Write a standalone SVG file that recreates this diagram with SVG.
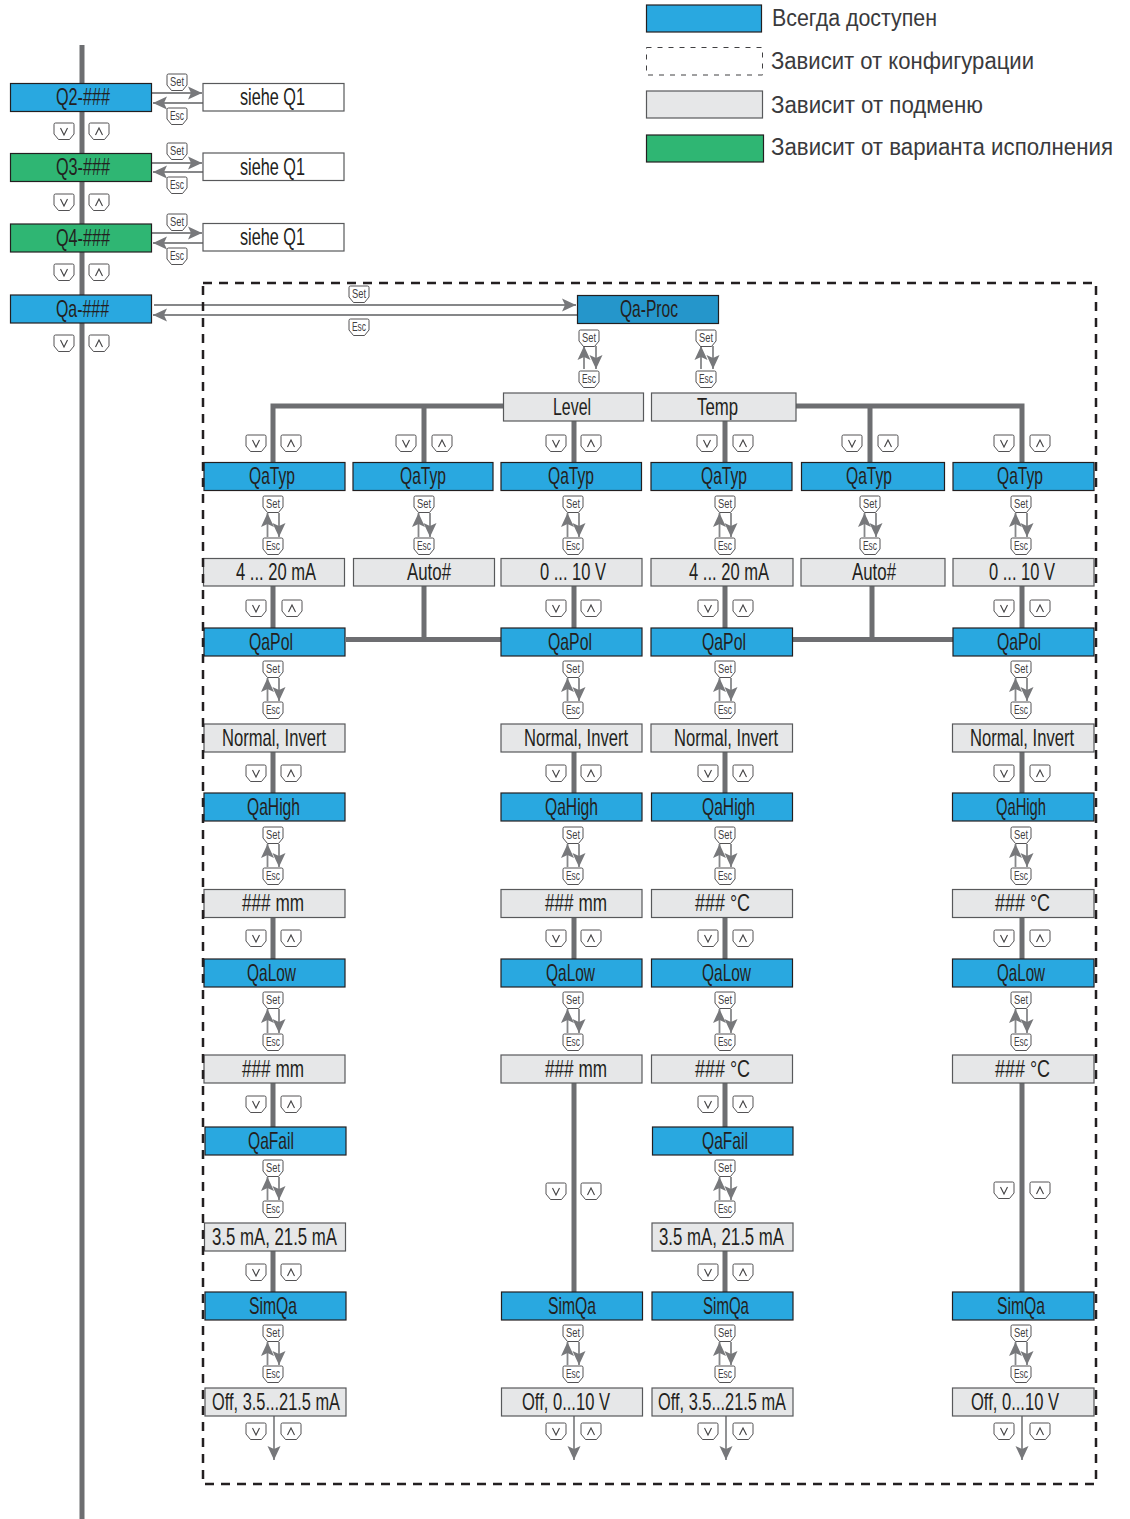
<svg xmlns="http://www.w3.org/2000/svg" width="1130" height="1519" viewBox="0 0 1130 1519">
<style>
.n{stroke-width:1.2}
.b{fill:#29a8e0;stroke:#231f20}
.p{fill:#2596cb;stroke:#231f20}
.gn{fill:#2fb673;stroke:#231f20}
.g{fill:#e6e7e8;stroke:#58595b}
.w{fill:#fff;stroke:#58595b}
.t{font-family:"Liberation Sans Narrow","Liberation Sans",sans-serif;font-size:24px;fill:#231f20}
.l{font-family:"Liberation Sans",sans-serif;font-size:23px;fill:#3a3a3c}
.kt{font-family:"Liberation Sans Narrow","Liberation Sans",sans-serif;font-size:12px;fill:#414042;text-anchor:middle}
.s{stroke:#6d6e71;stroke-width:5;fill:none}
.a{stroke:#868789;stroke-width:1.8;fill:none;marker-end:url(#h)}
.kf{fill:#fff;stroke:#414042;stroke-width:.9}
.ch{fill:none;stroke:#414042;stroke-width:1.1}
</style>
<defs>
<marker id="h" markerUnits="userSpaceOnUse" viewBox="-15 -8 16 16" refX="0" refY="0" markerWidth="16" markerHeight="16" orient="auto"><path d="M0 0L-14 -6.500L-11 0L-14 6.500Z" fill="#77787b"/></marker>
<path id="k" class="kf" d="M1.500 1H18.500Q20 1 20 2.500V12L15.500 17.500H4.500L0 12V2.500Q0 1 1.500 1Z"/>
<g id="kd"><use href="#k"/><path class="ch" d="M6.500 6L10 13L13.500 6"/></g>
<g id="ku"><use href="#k"/><path class="ch" d="M6.500 13L10 6L13.500 13"/></g>
</defs>

<g id="connectors">
<line class="s" x1="82" y1="45" x2="82" y2="1519"/>
<line class="a" x1="152" y1="93" x2="202" y2="93"/><line class="a" x1="203" y1="103" x2="153" y2="103"/>
<line class="a" x1="152" y1="163" x2="202" y2="163"/><line class="a" x1="203" y1="172" x2="153" y2="172"/>
<line class="a" x1="152" y1="233" x2="202" y2="233"/><line class="a" x1="203" y1="243" x2="153" y2="243"/>
<line class="a" x1="154" y1="305" x2="576" y2="305"/><line class="a" x1="577" y1="315" x2="153" y2="315"/>
<line class="a" x1="584" y1="369" x2="584" y2="346"/><line class="a" x1="596" y1="346" x2="596" y2="369"/>
<line class="a" x1="701" y1="369" x2="701" y2="346"/><line class="a" x1="713" y1="346" x2="713" y2="369"/>
<path class="s" d="M503 406H273V462M424 406V462M574 421V462M725 421V462M796 406H1022V462M870 406V462"/>
<path class="s" d="M273 586V628M346 639.500H501M424 586V639.500M574 586V628M725 586V628M793 639.500H953M872 586V639.500M1022 586V628"/>
<path class="s" d="M273 752V793M574 752V793M725 752V793M1022 752V793M273 917V959M574 917V959M725 917V959M1022 917V959"/>
<path class="s" d="M273 1083V1127M574 1083V1292M725 1083V1127M1022 1083V1292M273 1251V1292M725 1251V1292"/>
<line class="a" x1="274" y1="1416" x2="274" y2="1460"/><line class="a" x1="574" y1="1416" x2="574" y2="1460"/><line class="a" x1="726" y1="1416" x2="726" y2="1460"/><line class="a" x1="1022" y1="1416" x2="1022" y2="1460"/>
<line class="a" x1="267.500" y1="537" x2="267.500" y2="513"/><line class="a" x1="279" y1="513" x2="279" y2="537"/>
<line class="a" x1="418.500" y1="537" x2="418.500" y2="513"/><line class="a" x1="430" y1="513" x2="430" y2="537"/>
<line class="a" x1="567.500" y1="537" x2="567.500" y2="513"/><line class="a" x1="579" y1="513" x2="579" y2="537"/>
<line class="a" x1="719.500" y1="537" x2="719.500" y2="513"/><line class="a" x1="731" y1="513" x2="731" y2="537"/>
<line class="a" x1="864.500" y1="537" x2="864.500" y2="513"/><line class="a" x1="876" y1="513" x2="876" y2="537"/>
<line class="a" x1="1015.500" y1="537" x2="1015.500" y2="513"/><line class="a" x1="1027" y1="513" x2="1027" y2="537"/>
<line class="a" x1="267.500" y1="701" x2="267.500" y2="678"/><line class="a" x1="279" y1="678" x2="279" y2="701"/>
<line class="a" x1="567.500" y1="701" x2="567.500" y2="678"/><line class="a" x1="579" y1="678" x2="579" y2="701"/>
<line class="a" x1="719.500" y1="701" x2="719.500" y2="678"/><line class="a" x1="731" y1="678" x2="731" y2="701"/>
<line class="a" x1="1015.500" y1="701" x2="1015.500" y2="678"/><line class="a" x1="1027" y1="678" x2="1027" y2="701"/>
<line class="a" x1="267.500" y1="867" x2="267.500" y2="844"/><line class="a" x1="279" y1="844" x2="279" y2="867"/>
<line class="a" x1="567.500" y1="867" x2="567.500" y2="844"/><line class="a" x1="579" y1="844" x2="579" y2="867"/>
<line class="a" x1="719.500" y1="867" x2="719.500" y2="844"/><line class="a" x1="731" y1="844" x2="731" y2="867"/>
<line class="a" x1="1015.500" y1="867" x2="1015.500" y2="844"/><line class="a" x1="1027" y1="844" x2="1027" y2="867"/>
<line class="a" x1="267.500" y1="1033" x2="267.500" y2="1009"/><line class="a" x1="279" y1="1009" x2="279" y2="1033"/>
<line class="a" x1="567.500" y1="1033" x2="567.500" y2="1009"/><line class="a" x1="579" y1="1009" x2="579" y2="1033"/>
<line class="a" x1="719.500" y1="1033" x2="719.500" y2="1009"/><line class="a" x1="731" y1="1009" x2="731" y2="1033"/>
<line class="a" x1="1015.500" y1="1033" x2="1015.500" y2="1009"/><line class="a" x1="1027" y1="1009" x2="1027" y2="1033"/>
<line class="a" x1="267.500" y1="1200" x2="267.500" y2="1177"/><line class="a" x1="279" y1="1177" x2="279" y2="1200"/>
<line class="a" x1="719.500" y1="1200" x2="719.500" y2="1177"/><line class="a" x1="731" y1="1177" x2="731" y2="1200"/>
<line class="a" x1="267.500" y1="1365" x2="267.500" y2="1342"/><line class="a" x1="279" y1="1342" x2="279" y2="1365"/>
<line class="a" x1="567.500" y1="1365" x2="567.500" y2="1342"/><line class="a" x1="579" y1="1342" x2="579" y2="1365"/>
<line class="a" x1="719.500" y1="1365" x2="719.500" y2="1342"/><line class="a" x1="731" y1="1342" x2="731" y2="1365"/>
<line class="a" x1="1015.500" y1="1365" x2="1015.500" y2="1342"/><line class="a" x1="1027" y1="1342" x2="1027" y2="1365"/>
</g>

<g id="legend">
<rect class="b n" x="646.500" y="5" width="115" height="27"/>
<rect x="646.500" y="47.500" width="116" height="27.500" fill="none" stroke="#414042" stroke-width="1" stroke-dasharray="5 6"/>
<rect class="g n" x="646.500" y="91" width="116" height="27"/>
<rect class="gn n" x="646.500" y="135" width="117" height="27"/>
<text class="l" x="772" y="26" textLength="165" lengthAdjust="spacingAndGlyphs">Всегда доступен</text>
<text class="l" x="771" y="69" textLength="263" lengthAdjust="spacingAndGlyphs">Зависит от конфигурации</text>
<text class="l" x="771" y="113" textLength="212" lengthAdjust="spacingAndGlyphs">Зависит от подменю</text>
<text class="l" x="771" y="155" textLength="342" lengthAdjust="spacingAndGlyphs">Зависит от варианта исполнения</text>
</g>

<g id="q2"><rect class="b n" x="10.500" y="83.500" width="141" height="28"/><text class="t" x="56" y="105" textLength="54" lengthAdjust="spacingAndGlyphs">Q2-###</text></g>
<g id="q3"><rect class="gn n" x="10.500" y="153.500" width="141" height="28"/><text class="t" x="56" y="175" textLength="54" lengthAdjust="spacingAndGlyphs">Q3-###</text></g>
<g id="q4"><rect class="gn n" x="10.500" y="224" width="141" height="28"/><text class="t" x="56" y="246" textLength="54" lengthAdjust="spacingAndGlyphs">Q4-###</text></g>
<g id="qa"><rect class="b n" x="10.500" y="295" width="141" height="28"/><text class="t" x="56" y="317" textLength="53" lengthAdjust="spacingAndGlyphs">Qa-###</text></g>
<g id="sq2"><rect class="w n" x="203" y="83.500" width="141" height="27.500"/><text class="t" x="240" y="105" textLength="65" lengthAdjust="spacingAndGlyphs">siehe Q1</text></g>
<g id="sq3"><rect class="w n" x="203" y="153" width="141" height="27.500"/><text class="t" x="240" y="175" textLength="65" lengthAdjust="spacingAndGlyphs">siehe Q1</text></g>
<g id="sq4"><rect class="w n" x="203" y="223.500" width="141" height="27.500"/><text class="t" x="240" y="245" textLength="65" lengthAdjust="spacingAndGlyphs">siehe Q1</text></g>
<g id="qaproc"><rect class="p n" x="577.500" y="295.500" width="141" height="28"/><text class="t" x="620" y="317" textLength="58" lengthAdjust="spacingAndGlyphs">Qa-Proc</text></g>
<g id="level"><rect class="g n" x="503.500" y="393" width="140" height="28"/><text class="t" x="553" y="415" textLength="38" lengthAdjust="spacingAndGlyphs">Level</text></g>
<g id="temp"><rect class="g n" x="651.500" y="393" width="144.500" height="28"/><text class="t" x="697" y="415" textLength="41" lengthAdjust="spacingAndGlyphs">Temp</text></g>

<g id="a1"><rect class="b n" x="204" y="462.500" width="141" height="28"/><text class="t" x="249" y="484" textLength="46" lengthAdjust="spacingAndGlyphs">QaTyp</text></g>
<g id="a2"><rect class="g n" x="203.500" y="558.500" width="141" height="27.500"/><text class="t" x="236" y="580" textLength="80" lengthAdjust="spacingAndGlyphs">4 ... 20 mA</text></g>
<g id="a3"><rect class="b n" x="204" y="628" width="141" height="28"/><text class="t" x="249" y="650" textLength="44" lengthAdjust="spacingAndGlyphs">QaPol</text></g>
<g id="a4"><rect class="g n" x="204" y="724" width="141" height="28"/><text class="t" x="222" y="746" textLength="104" lengthAdjust="spacingAndGlyphs">Normal, Invert</text></g>
<g id="a5"><rect class="b n" x="204" y="793" width="141" height="28"/><text class="t" x="247" y="815" textLength="53" lengthAdjust="spacingAndGlyphs">QaHigh</text></g>
<g id="a6"><rect class="g n" x="204" y="889.500" width="141" height="28"/><text class="t" x="242" y="911" textLength="62" lengthAdjust="spacingAndGlyphs">### mm</text></g>
<g id="a7"><rect class="b n" x="204" y="959" width="141" height="28"/><text class="t" x="247" y="981" textLength="49" lengthAdjust="spacingAndGlyphs">QaLow</text></g>
<g id="a8"><rect class="g n" x="204" y="1055" width="141" height="28"/><text class="t" x="242" y="1077" textLength="62" lengthAdjust="spacingAndGlyphs">### mm</text></g>
<g id="a9"><rect class="b n" x="205" y="1127" width="141" height="28"/><text class="t" x="248" y="1149" textLength="46" lengthAdjust="spacingAndGlyphs">QaFail</text></g>
<g id="a10"><rect class="g n" x="204.500" y="1223" width="141" height="28"/><text class="t" x="212" y="1245" textLength="125" lengthAdjust="spacingAndGlyphs">3.5 mA, 21.5 mA</text></g>
<g id="a11"><rect class="b n" x="205" y="1292" width="141" height="28"/><text class="t" x="249" y="1314" textLength="48" lengthAdjust="spacingAndGlyphs">SimQa</text></g>
<g id="a12"><rect class="g n" x="205" y="1388" width="141" height="28"/><text class="t" x="212" y="1410" textLength="128" lengthAdjust="spacingAndGlyphs">Off, 3.5...21.5 mA</text></g>

<g id="b1"><rect class="b n" x="353" y="462.500" width="140" height="28"/><text class="t" x="400" y="484" textLength="46" lengthAdjust="spacingAndGlyphs">QaTyp</text></g>
<g id="b2"><rect class="g n" x="353.500" y="558.500" width="141" height="27.500"/><text class="t" x="407" y="580" textLength="44" lengthAdjust="spacingAndGlyphs">Auto#</text></g>

<g id="c1"><rect class="b n" x="501" y="462.500" width="140.500" height="28"/><text class="t" x="548" y="484" textLength="46" lengthAdjust="spacingAndGlyphs">QaTyp</text></g>
<g id="c2"><rect class="g n" x="501" y="558.500" width="141" height="27.500"/><text class="t" x="540" y="580" textLength="66" lengthAdjust="spacingAndGlyphs">0 ... 10 V</text></g>
<g id="c3"><rect class="b n" x="501" y="628" width="141" height="28"/><text class="t" x="548" y="650" textLength="44" lengthAdjust="spacingAndGlyphs">QaPol</text></g>
<g id="c4"><rect class="g n" x="501" y="724" width="141" height="28"/><text class="t" x="524" y="746" textLength="104" lengthAdjust="spacingAndGlyphs">Normal, Invert</text></g>
<g id="c5"><rect class="b n" x="501" y="793" width="141" height="28"/><text class="t" x="545" y="815" textLength="53" lengthAdjust="spacingAndGlyphs">QaHigh</text></g>
<g id="c6"><rect class="g n" x="501" y="889.500" width="141" height="28"/><text class="t" x="545" y="911" textLength="62" lengthAdjust="spacingAndGlyphs">### mm</text></g>
<g id="c7"><rect class="b n" x="501" y="959" width="141" height="28"/><text class="t" x="546" y="981" textLength="49" lengthAdjust="spacingAndGlyphs">QaLow</text></g>
<g id="c8"><rect class="g n" x="501" y="1055" width="141" height="28"/><text class="t" x="545" y="1077" textLength="62" lengthAdjust="spacingAndGlyphs">### mm</text></g>
<g id="c9"><rect class="b n" x="501.500" y="1292" width="141" height="28"/><text class="t" x="548" y="1314" textLength="48" lengthAdjust="spacingAndGlyphs">SimQa</text></g>
<g id="c10"><rect class="g n" x="501.500" y="1388" width="141" height="28"/><text class="t" x="522" y="1410" textLength="88" lengthAdjust="spacingAndGlyphs">Off, 0...10 V</text></g>

<g id="d1"><rect class="b n" x="651" y="462.500" width="141" height="28"/><text class="t" x="701" y="484" textLength="46" lengthAdjust="spacingAndGlyphs">QaTyp</text></g>
<g id="d2"><rect class="g n" x="651" y="558.500" width="142" height="27.500"/><text class="t" x="689" y="580" textLength="80" lengthAdjust="spacingAndGlyphs">4 ... 20 mA</text></g>
<g id="d3"><rect class="b n" x="651" y="628" width="141.500" height="28"/><text class="t" x="702" y="650" textLength="44" lengthAdjust="spacingAndGlyphs">QaPol</text></g>
<g id="d4"><rect class="g n" x="651" y="724" width="141.500" height="28"/><text class="t" x="674" y="746" textLength="104" lengthAdjust="spacingAndGlyphs">Normal, Invert</text></g>
<g id="d5"><rect class="b n" x="651.500" y="793" width="141" height="28"/><text class="t" x="702" y="815" textLength="53" lengthAdjust="spacingAndGlyphs">QaHigh</text></g>
<g id="d6"><rect class="g n" x="651.500" y="889.500" width="141" height="28"/><text class="t" x="695" y="911" textLength="55" lengthAdjust="spacingAndGlyphs">### °C</text></g>
<g id="d7"><rect class="b n" x="651.500" y="959" width="141" height="28"/><text class="t" x="702" y="981" textLength="49" lengthAdjust="spacingAndGlyphs">QaLow</text></g>
<g id="d8"><rect class="g n" x="651.500" y="1055" width="141" height="28"/><text class="t" x="695" y="1077" textLength="55" lengthAdjust="spacingAndGlyphs">### °C</text></g>
<g id="d9"><rect class="b n" x="652.500" y="1127" width="140.500" height="28"/><text class="t" x="702" y="1149" textLength="46" lengthAdjust="spacingAndGlyphs">QaFail</text></g>
<g id="d10"><rect class="g n" x="652" y="1223" width="141" height="28"/><text class="t" x="659" y="1245" textLength="125" lengthAdjust="spacingAndGlyphs">3.5 mA, 21.5 mA</text></g>
<g id="d11"><rect class="b n" x="652" y="1292" width="141" height="28"/><text class="t" x="703" y="1314" textLength="46" lengthAdjust="spacingAndGlyphs">SimQa</text></g>
<g id="d12"><rect class="g n" x="652" y="1388" width="141" height="28"/><text class="t" x="658" y="1410" textLength="128" lengthAdjust="spacingAndGlyphs">Off, 3.5...21.5 mA</text></g>

<g id="e1"><rect class="b n" x="801.500" y="462.500" width="143" height="28"/><text class="t" x="846" y="484" textLength="46" lengthAdjust="spacingAndGlyphs">QaTyp</text></g>
<g id="e2"><rect class="g n" x="801" y="558.500" width="144" height="27.500"/><text class="t" x="852" y="580" textLength="44" lengthAdjust="spacingAndGlyphs">Auto#</text></g>

<g id="f1"><rect class="b n" x="953" y="462.500" width="141" height="28"/><text class="t" x="997" y="484" textLength="46" lengthAdjust="spacingAndGlyphs">QaTyp</text></g>
<g id="f2"><rect class="g n" x="953" y="558.500" width="141" height="27.500"/><text class="t" x="989" y="580" textLength="66" lengthAdjust="spacingAndGlyphs">0 ... 10 V</text></g>
<g id="f3"><rect class="b n" x="953" y="628" width="141" height="28"/><text class="t" x="997" y="650" textLength="44" lengthAdjust="spacingAndGlyphs">QaPol</text></g>
<g id="f4"><rect class="g n" x="952.500" y="724" width="141.500" height="28"/><text class="t" x="970" y="746" textLength="104" lengthAdjust="spacingAndGlyphs">Normal, Invert</text></g>
<g id="f5"><rect class="b n" x="952.500" y="793" width="141.500" height="28"/><text class="t" x="996" y="815" textLength="50" lengthAdjust="spacingAndGlyphs">QaHigh</text></g>
<g id="f6"><rect class="g n" x="952.500" y="889.500" width="141.500" height="28"/><text class="t" x="995" y="911" textLength="55" lengthAdjust="spacingAndGlyphs">### °C</text></g>
<g id="f7"><rect class="b n" x="952.500" y="959" width="141.500" height="28"/><text class="t" x="997" y="981" textLength="48" lengthAdjust="spacingAndGlyphs">QaLow</text></g>
<g id="f8"><rect class="g n" x="952.500" y="1055" width="141.500" height="28"/><text class="t" x="995" y="1077" textLength="55" lengthAdjust="spacingAndGlyphs">### °C</text></g>
<g id="f9"><rect class="b n" x="952.500" y="1292" width="141.500" height="28"/><text class="t" x="997" y="1314" textLength="48" lengthAdjust="spacingAndGlyphs">SimQa</text></g>
<g id="f10"><rect class="g n" x="952.500" y="1388" width="141.500" height="28"/><text class="t" x="971" y="1410" textLength="88" lengthAdjust="spacingAndGlyphs">Off, 0...10 V</text></g>

<g id="nav-keys">
<use href="#kd" x="54" y="122"/><use href="#ku" x="89" y="122"/>
<use href="#kd" x="54" y="193"/><use href="#ku" x="89" y="193"/>
<use href="#kd" x="54" y="263"/><use href="#ku" x="89" y="263"/>
<use href="#kd" x="54" y="334"/><use href="#ku" x="89" y="334"/>
<use href="#kd" x="246" y="434"/><use href="#ku" x="281" y="434"/>
<use href="#kd" x="396" y="434"/><use href="#ku" x="432" y="434"/>
<use href="#kd" x="546" y="434"/><use href="#ku" x="581" y="434"/>
<use href="#kd" x="697" y="434"/><use href="#ku" x="733" y="434"/>
<use href="#kd" x="842" y="434"/><use href="#ku" x="878" y="434"/>
<use href="#kd" x="994" y="434"/><use href="#ku" x="1030" y="434"/>
<use href="#kd" x="246" y="599"/><use href="#ku" x="282" y="599"/>
<use href="#kd" x="546" y="599"/><use href="#ku" x="581" y="599"/>
<use href="#kd" x="698" y="599"/><use href="#ku" x="733" y="599"/>
<use href="#kd" x="994" y="599"/><use href="#ku" x="1030" y="599"/>
<use href="#kd" x="246" y="764"/><use href="#ku" x="281" y="764"/>
<use href="#kd" x="546" y="764"/><use href="#ku" x="581" y="764"/>
<use href="#kd" x="698" y="764"/><use href="#ku" x="733" y="764"/>
<use href="#kd" x="994" y="764"/><use href="#ku" x="1030" y="764"/>
<use href="#kd" x="246" y="929"/><use href="#ku" x="281" y="929"/>
<use href="#kd" x="546" y="929"/><use href="#ku" x="581" y="929"/>
<use href="#kd" x="698" y="929"/><use href="#ku" x="733" y="929"/>
<use href="#kd" x="994" y="929"/><use href="#ku" x="1030" y="929"/>
<use href="#kd" x="246" y="1095"/><use href="#ku" x="281" y="1095"/>
<use href="#kd" x="698" y="1095"/><use href="#ku" x="733" y="1095"/>
<use href="#kd" x="546" y="1182"/><use href="#ku" x="581" y="1182"/>
<use href="#kd" x="994" y="1181"/><use href="#ku" x="1030" y="1181"/>
<use href="#kd" x="246" y="1263"/><use href="#ku" x="281" y="1263"/>
<use href="#kd" x="698" y="1263"/><use href="#ku" x="733" y="1263"/>
<use href="#kd" x="246" y="1422"/><use href="#ku" x="281" y="1422"/>
<use href="#kd" x="546" y="1422"/><use href="#ku" x="581" y="1422"/>
<use href="#kd" x="698" y="1422"/><use href="#ku" x="733" y="1422"/>
<use href="#kd" x="994" y="1422"/><use href="#ku" x="1030" y="1422"/>
</g>

<g id="set-esc-keys">
<use href="#k" x="167" y="73"/><text class="kt" x="177" y="86" textLength="14" lengthAdjust="spacingAndGlyphs">Set</text><use href="#k" x="167" y="107"/><text class="kt" x="177" y="120" textLength="14" lengthAdjust="spacingAndGlyphs">Esc</text>
<use href="#k" x="167" y="142"/><text class="kt" x="177" y="155" textLength="14" lengthAdjust="spacingAndGlyphs">Set</text><use href="#k" x="167" y="176"/><text class="kt" x="177" y="189" textLength="14" lengthAdjust="spacingAndGlyphs">Esc</text>
<use href="#k" x="167" y="213"/><text class="kt" x="177" y="226" textLength="14" lengthAdjust="spacingAndGlyphs">Set</text><use href="#k" x="167" y="247"/><text class="kt" x="177" y="260" textLength="14" lengthAdjust="spacingAndGlyphs">Esc</text>
<use href="#k" x="349" y="285"/><text class="kt" x="359" y="298" textLength="14" lengthAdjust="spacingAndGlyphs">Set</text><use href="#k" x="349" y="318"/><text class="kt" x="359" y="331" textLength="14" lengthAdjust="spacingAndGlyphs">Esc</text>
<use href="#k" x="579" y="329"/><text class="kt" x="589" y="342" textLength="14" lengthAdjust="spacingAndGlyphs">Set</text><use href="#k" x="579" y="370"/><text class="kt" x="589" y="383" textLength="14" lengthAdjust="spacingAndGlyphs">Esc</text>
<use href="#k" x="696" y="329"/><text class="kt" x="706" y="342" textLength="14" lengthAdjust="spacingAndGlyphs">Set</text><use href="#k" x="696" y="370"/><text class="kt" x="706" y="383" textLength="14" lengthAdjust="spacingAndGlyphs">Esc</text>

<use href="#k" x="263" y="495"/><text class="kt" x="273" y="508" textLength="14" lengthAdjust="spacingAndGlyphs">Set</text><use href="#k" x="263" y="537"/><text class="kt" x="273" y="550" textLength="14" lengthAdjust="spacingAndGlyphs">Esc</text>
<use href="#k" x="414" y="495"/><text class="kt" x="424" y="508" textLength="14" lengthAdjust="spacingAndGlyphs">Set</text><use href="#k" x="414" y="537"/><text class="kt" x="424" y="550" textLength="14" lengthAdjust="spacingAndGlyphs">Esc</text>
<use href="#k" x="563" y="495"/><text class="kt" x="573" y="508" textLength="14" lengthAdjust="spacingAndGlyphs">Set</text><use href="#k" x="563" y="537"/><text class="kt" x="573" y="550" textLength="14" lengthAdjust="spacingAndGlyphs">Esc</text>
<use href="#k" x="715" y="495"/><text class="kt" x="725" y="508" textLength="14" lengthAdjust="spacingAndGlyphs">Set</text><use href="#k" x="715" y="537"/><text class="kt" x="725" y="550" textLength="14" lengthAdjust="spacingAndGlyphs">Esc</text>
<use href="#k" x="860" y="495"/><text class="kt" x="870" y="508" textLength="14" lengthAdjust="spacingAndGlyphs">Set</text><use href="#k" x="860" y="537"/><text class="kt" x="870" y="550" textLength="14" lengthAdjust="spacingAndGlyphs">Esc</text>
<use href="#k" x="1011" y="495"/><text class="kt" x="1021" y="508" textLength="14" lengthAdjust="spacingAndGlyphs">Set</text><use href="#k" x="1011" y="537"/><text class="kt" x="1021" y="550" textLength="14" lengthAdjust="spacingAndGlyphs">Esc</text>

<use href="#k" x="263" y="660"/><text class="kt" x="273" y="673" textLength="14" lengthAdjust="spacingAndGlyphs">Set</text><use href="#k" x="263" y="701"/><text class="kt" x="273" y="714" textLength="14" lengthAdjust="spacingAndGlyphs">Esc</text>
<use href="#k" x="563" y="660"/><text class="kt" x="573" y="673" textLength="14" lengthAdjust="spacingAndGlyphs">Set</text><use href="#k" x="563" y="701"/><text class="kt" x="573" y="714" textLength="14" lengthAdjust="spacingAndGlyphs">Esc</text>
<use href="#k" x="715" y="660"/><text class="kt" x="725" y="673" textLength="14" lengthAdjust="spacingAndGlyphs">Set</text><use href="#k" x="715" y="701"/><text class="kt" x="725" y="714" textLength="14" lengthAdjust="spacingAndGlyphs">Esc</text>
<use href="#k" x="1011" y="660"/><text class="kt" x="1021" y="673" textLength="14" lengthAdjust="spacingAndGlyphs">Set</text><use href="#k" x="1011" y="701"/><text class="kt" x="1021" y="714" textLength="14" lengthAdjust="spacingAndGlyphs">Esc</text>

<use href="#k" x="263" y="826"/><text class="kt" x="273" y="839" textLength="14" lengthAdjust="spacingAndGlyphs">Set</text><use href="#k" x="263" y="867"/><text class="kt" x="273" y="880" textLength="14" lengthAdjust="spacingAndGlyphs">Esc</text>
<use href="#k" x="563" y="826"/><text class="kt" x="573" y="839" textLength="14" lengthAdjust="spacingAndGlyphs">Set</text><use href="#k" x="563" y="867"/><text class="kt" x="573" y="880" textLength="14" lengthAdjust="spacingAndGlyphs">Esc</text>
<use href="#k" x="715" y="826"/><text class="kt" x="725" y="839" textLength="14" lengthAdjust="spacingAndGlyphs">Set</text><use href="#k" x="715" y="867"/><text class="kt" x="725" y="880" textLength="14" lengthAdjust="spacingAndGlyphs">Esc</text>
<use href="#k" x="1011" y="826"/><text class="kt" x="1021" y="839" textLength="14" lengthAdjust="spacingAndGlyphs">Set</text><use href="#k" x="1011" y="867"/><text class="kt" x="1021" y="880" textLength="14" lengthAdjust="spacingAndGlyphs">Esc</text>

<use href="#k" x="263" y="991"/><text class="kt" x="273" y="1004" textLength="14" lengthAdjust="spacingAndGlyphs">Set</text><use href="#k" x="263" y="1033"/><text class="kt" x="273" y="1046" textLength="14" lengthAdjust="spacingAndGlyphs">Esc</text>
<use href="#k" x="563" y="991"/><text class="kt" x="573" y="1004" textLength="14" lengthAdjust="spacingAndGlyphs">Set</text><use href="#k" x="563" y="1033"/><text class="kt" x="573" y="1046" textLength="14" lengthAdjust="spacingAndGlyphs">Esc</text>
<use href="#k" x="715" y="991"/><text class="kt" x="725" y="1004" textLength="14" lengthAdjust="spacingAndGlyphs">Set</text><use href="#k" x="715" y="1033"/><text class="kt" x="725" y="1046" textLength="14" lengthAdjust="spacingAndGlyphs">Esc</text>
<use href="#k" x="1011" y="991"/><text class="kt" x="1021" y="1004" textLength="14" lengthAdjust="spacingAndGlyphs">Set</text><use href="#k" x="1011" y="1033"/><text class="kt" x="1021" y="1046" textLength="14" lengthAdjust="spacingAndGlyphs">Esc</text>

<use href="#k" x="263" y="1159"/><text class="kt" x="273" y="1172" textLength="14" lengthAdjust="spacingAndGlyphs">Set</text><use href="#k" x="263" y="1200"/><text class="kt" x="273" y="1213" textLength="14" lengthAdjust="spacingAndGlyphs">Esc</text>
<use href="#k" x="715" y="1159"/><text class="kt" x="725" y="1172" textLength="14" lengthAdjust="spacingAndGlyphs">Set</text><use href="#k" x="715" y="1200"/><text class="kt" x="725" y="1213" textLength="14" lengthAdjust="spacingAndGlyphs">Esc</text>

<use href="#k" x="263" y="1324"/><text class="kt" x="273" y="1337" textLength="14" lengthAdjust="spacingAndGlyphs">Set</text><use href="#k" x="263" y="1365"/><text class="kt" x="273" y="1378" textLength="14" lengthAdjust="spacingAndGlyphs">Esc</text>
<use href="#k" x="563" y="1324"/><text class="kt" x="573" y="1337" textLength="14" lengthAdjust="spacingAndGlyphs">Set</text><use href="#k" x="563" y="1365"/><text class="kt" x="573" y="1378" textLength="14" lengthAdjust="spacingAndGlyphs">Esc</text>
<use href="#k" x="715" y="1324"/><text class="kt" x="725" y="1337" textLength="14" lengthAdjust="spacingAndGlyphs">Set</text><use href="#k" x="715" y="1365"/><text class="kt" x="725" y="1378" textLength="14" lengthAdjust="spacingAndGlyphs">Esc</text>
<use href="#k" x="1011" y="1324"/><text class="kt" x="1021" y="1337" textLength="14" lengthAdjust="spacingAndGlyphs">Set</text><use href="#k" x="1011" y="1365"/><text class="kt" x="1021" y="1378" textLength="14" lengthAdjust="spacingAndGlyphs">Esc</text>
</g>

<rect id="config-frame" x="203" y="283" width="893" height="1201" fill="none" stroke="#231f20" stroke-width="2.500" stroke-dasharray="9 7"/>
</svg>
